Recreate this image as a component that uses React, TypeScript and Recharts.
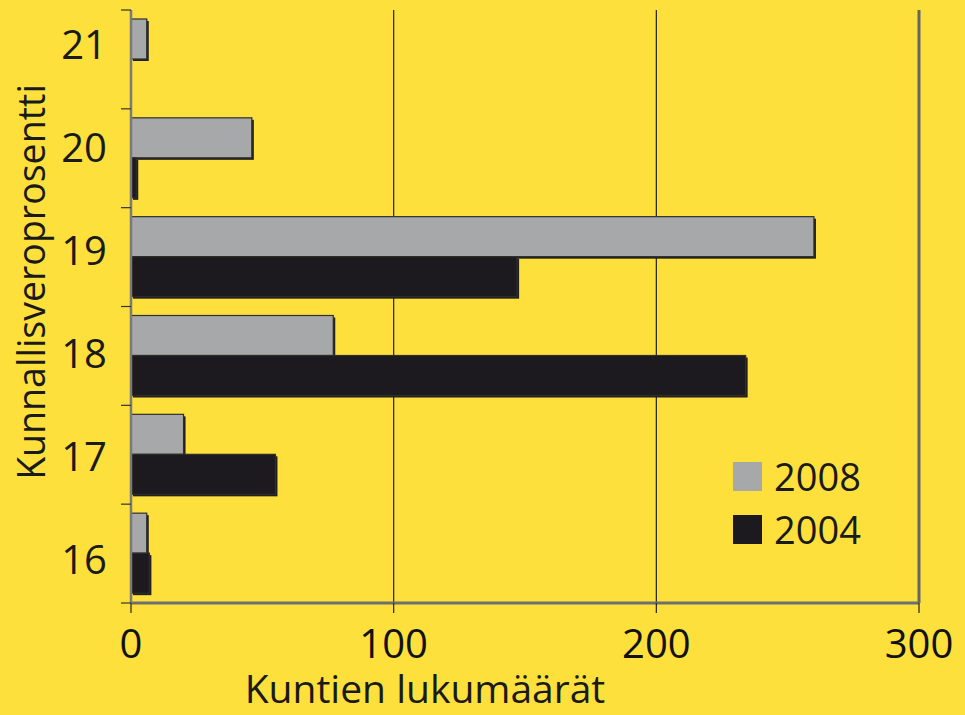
import { BarChart, Bar, XAxis, YAxis, CartesianGrid, Legend, ReferenceLine } from 'recharts';

const prosentit = ['21', '20', '19', '18', '17', '16'];
const kunnat2008 = [6, 46, 260, 77, 20, 6];
const kunnat2004 = [0, 2, 147, 234, 55, 7];
const xTicks = [0, 100, 200, 300];

const KELTAINEN = '#FDE03C';
const HARMAA = '#A7A8AA';
const MUSTA = '#1C1A1F';
const FONTTI = '"Open Sans", "Noto Sans", sans-serif';

const LEVEYS = 965;
const KORKEUS = 715;
const YLA = 10;
const ALA = 112;
const KAISTA = (KORKEUS - YLA - ALA) / prosentit.length;

const data = prosentit.map((p, i) => ({ pros: p, v2008: kunnat2008[i], v2004: kunnat2004[i] }));

// palkki varjolla, kuten alkuperäisessä
const Palkki = (props: any) => {
    const { x, y, width, height, fill } = props;
    if (!width || width <= 0) return null;
    return (
        <g>
            <rect x={x + 2} y={y + 2} width={width} height={height} fill="#231F20" />
            <rect x={x} y={y} width={width} height={height} fill={fill} stroke="#2E2E2E" strokeWidth={1.2} />
        </g>
    );
};

const YTikki = (props: any) => {
    const { x, y, payload, index } = props;
    const siirto = -15 + index * 4.2;
    return (
        <g>
            <line x1={x - 10} x2={x} y1={y - KAISTA / 2} y2={y - KAISTA / 2} stroke="#333" strokeWidth={1.2} />
            {index === prosentit.length - 1 && (
                <line x1={x - 10} x2={x} y1={y + KAISTA / 2} y2={y + KAISTA / 2} stroke="#333" strokeWidth={1.2} />
            )}
            <text x={x - 24} y={y + siirto} dy="0.36em" textAnchor="end" fontSize={40} fontFamily={FONTTI} fill="#1a1a1a">
                {payload.value}
            </text>
        </g>
    );
};

const Selite = () => (
    <div style={{ fontFamily: FONTTI, fontSize: 38, color: '#1a1a1a', lineHeight: '53px' }}>
        {[['2008', HARMAA], ['2004', MUSTA]].map(([nimi, vari]) => (
            <div key={nimi} style={{ display: 'flex', alignItems: 'center' }}>
                <span style={{ width: 29, height: 29, background: vari, display: 'inline-block', marginRight: 12 }} />
                <span>{nimi}</span>
            </div>
        ))}
    </div>
);

export default function App() {
    return (
        <div style={{ position: 'absolute', left: 0, top: 0, width: LEVEYS, height: KORKEUS, background: KELTAINEN }}>
            <BarChart
                width={LEVEYS}
                height={KORKEUS}
                data={data}
                layout="vertical"
                margin={{ top: YLA, right: 46, left: 0, bottom: 0 }}
                barCategoryGap={9}
                barGap={0}
            >
                <CartesianGrid horizontal={false} vertical stroke="#222" strokeWidth={1.2} verticalValues={[100, 200]} />
                <XAxis
                    type="number"
                    domain={[0, 300]}
                    ticks={xTicks}
                    height={ALA}
                    tickSize={10}
                    tickMargin={17}
                    tick={{ fontSize: 40, fontFamily: FONTTI, fill: '#111' }}
                    tickLine={{ stroke: '#222', strokeWidth: 1.2 }}
                    axisLine={{ stroke: '#6E6E6E', strokeWidth: 3 }}
                    label={{
                        content: () => (
                            <text x={425} y={703} textAnchor="middle" fontSize={39} fontFamily={FONTTI} fill="#1a1a1a">
                                Kuntien lukumäärät
                            </text>
                        ),
                    }}
                />
                <XAxis xAxisId="yla" orientation="top" type="number" domain={[0, 300]} height={0} tick={false} tickLine={false} axisLine={{ stroke: '#3A3A3A', strokeWidth: 2 }} />
                <YAxis
                    type="category"
                    dataKey="pros"
                    width={131}
                    tickLine={false}
                    tick={<YTikki />}
                    tickMargin={0}
                    tickSize={0}
                    axisLine={{ stroke: '#7A7A7A', strokeWidth: 2.5 }}
                    label={{
                        content: () => (
                            <text x={30} y={282} textAnchor="middle" dominantBaseline="central" transform="rotate(-90 30 282)" fontSize={37.5} fontFamily={FONTTI} fill="#1a1a1a">
                                Kunnallisveroprosentti
                            </text>
                        ),
                    }}
                />
                <ReferenceLine x={300} stroke="#666" strokeWidth={3} />
                <Legend
                    content={<Selite />}
                    layout="vertical"
                    verticalAlign="middle"
                    align="center"
                    wrapperStyle={{ position: 'absolute', left: 733, top: 450, width: 160 }}
                />
                <Bar dataKey="v2008" name="2008" fill={HARMAA} shape={<Palkki />} isAnimationActive={false} />
                <Bar dataKey="v2004" name="2004" fill={MUSTA} shape={<Palkki />} isAnimationActive={false} />
            </BarChart>
        </div>
    );
}
